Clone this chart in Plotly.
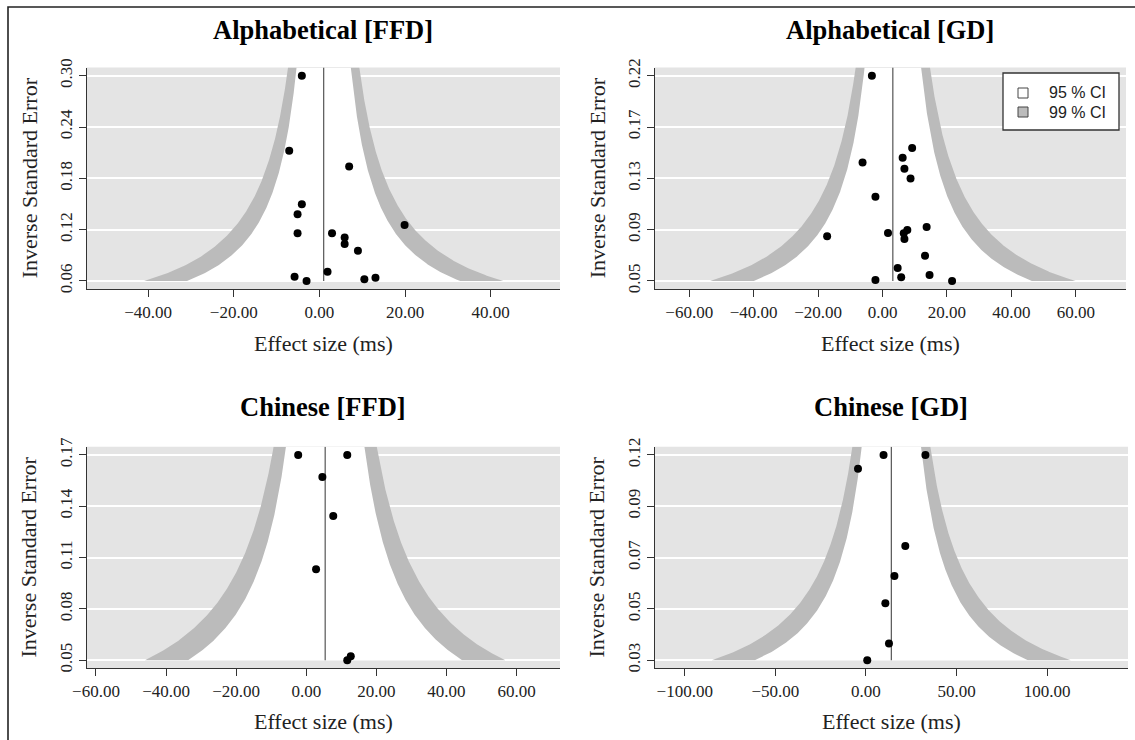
import numpy as np
import plotly.graph_objects as go

W, H = 1135, 740

# ---------------- data ----------------
panel_titles = ["Alphabetical [FFD]", "Alphabetical [GD]", "Chinese [FFD]", "Chinese [GD]"]

alpha_ffd_effect = [-4.1, -7.05, 6.95, -4.1, -5.1, 19.9, -5.1, 2.95, 5.9, 5.9, 9.0, 1.9, -5.8, -3.0, 10.5, 13.1]
alpha_ffd_inv_se = [0.2998, 0.2126, 0.1943, 0.1506, 0.1390, 0.1265, 0.1169, 0.1169, 0.1118, 0.1044,
                    0.0966, 0.0722, 0.0664, 0.0614, 0.0634, 0.0652]

alpha_gd_effect = [-3.3, 9.2, 6.25, -6.2, 6.8, 8.7, -2.2, 13.7, 7.7, 6.6, 1.7, -17.2, 6.8, 13.2, 4.7,
                   5.8, 14.6, -2.2, 21.6]
alpha_gd_inv_se = [0.2164, 0.1561, 0.1480, 0.1441, 0.1388, 0.1307, 0.1155, 0.0904, 0.0879, 0.0852,
                   0.0854, 0.0827, 0.0804, 0.0665, 0.0562, 0.0485, 0.0504, 0.0462, 0.0454]

chinese_ffd_effect = [-2.3, 11.7, 4.6, 7.7, 2.8, 12.7, 11.7]
chinese_ffd_inv_se = [0.1702, 0.1702, 0.1573, 0.1345, 0.1033, 0.0524, 0.0501]

chinese_gd_effect = [9.7, 32.8, -4.4, 21.7, 15.7, 10.7, 12.7, 0.7]
chinese_gd_inv_se = [0.1161, 0.1161, 0.1100, 0.0761, 0.0629, 0.0510, 0.0333, 0.0260]

pooled_effect = [1.0, 3.2, 5.4, 14.0]

effects = [alpha_ffd_effect, alpha_gd_effect, chinese_ffd_effect, chinese_gd_effect]
inv_ses = [alpha_ffd_inv_se, alpha_gd_inv_se, chinese_ffd_inv_se, chinese_gd_inv_se]

x_tick_values = [[-40, -20, 0, 20, 40],
                 [-60, -40, -20, 0, 20, 40, 60],
                 [-60, -40, -20, 0, 20, 40, 60],
                 [-100, -50, 0, 50, 100]]
x_tick_labels = [["\u221240.00", "\u221220.00", "0.00", "20.00", "40.00"],
                 ["\u221260.00", "\u221240.00", "\u221220.00", "0.00", "20.00", "40.00", "60.00"],
                 ["\u221260.00", "\u221240.00", "\u221220.00", "0.00", "20.00", "40.00", "60.00"],
                 ["\u2212100.00", "\u221250.00", "0.00", "50.00", "100.00"]]
y_tick_labels = [["0.06", "0.12", "0.18", "0.24", "0.30"],
                 ["0.05", "0.09", "0.13", "0.17", "0.22"],
                 ["0.05", "0.08", "0.11", "0.14", "0.17"],
                 ["0.03", "0.05", "0.07", "0.09", "0.12"]]

legend_labels = ["95 % CI", "99 % CI"]
z95, z99 = 1.959964, 2.575829

# ---------------- layout constants ----------------
x_ranges = [[-54.4, 56.2], [-70.8, 75.6], [-62.7, 72.4], [-116.7, 144.6]]
x_dom_px = [[86.5, 560], [654.5, 1126], [86.5, 560], [654.5, 1128]]
y_dom_px = [[67.5, 289.2], [67.5, 289.2], [446.7, 668.4], [446.7, 668.4]]
title_y_px = [30, 30, 407, 407]
xtitle_y_px = [343, 343, 721, 721]

BG = "#e4e4e4"
BAND = "#bbbbbb"
AX = "#333333"
SERIF = "Liberation Serif, Times New Roman, serif"
SANS = "Liberation Sans, Arial, sans-serif"


def px(x):
    return x / W


def py(y):
    return 1 - y / H


fig = go.Figure()
annotations = []
shapes = []
layout_axes = {}

for i in range(4):
    n = i + 1
    xa = "x" if n == 1 else f"x{n}"
    ya = "y" if n == 1 else f"y{n}"
    eff = np.array(effects[i])
    inv = np.array(inv_ses[i])
    ylo, yhi = inv.min(), inv.max()
    pad = 0.04 * (yhi - ylo)
    ytop = yhi + pad
    c = pooled_effect[i]

    ygrid = np.linspace(ylo, ytop, 400)
    for z, col in [(z99, BAND), (z95, "white")]:
        xs = np.concatenate([c - z / ygrid, (c + z / ygrid)[::-1]])
        ys = np.concatenate([ygrid, ygrid[::-1]])
        fig.add_trace(go.Scatter(x=xs, y=ys, mode="lines", fill="toself", fillcolor=col,
                                 line=dict(width=0, color=col), hoverinfo="skip",
                                 showlegend=False, xaxis=xa, yaxis=ya))
    # reference line
    fig.add_trace(go.Scatter(x=[c, c], y=[ylo, ytop], mode="lines",
                             line=dict(color="#555555", width=1.2), hoverinfo="skip",
                             showlegend=False, xaxis=xa, yaxis=ya))
    # studies
    fig.add_trace(go.Scatter(x=eff, y=inv, mode="markers",
                             marker=dict(color="black", size=8, line=dict(width=0)),
                             showlegend=False, xaxis=xa, yaxis=ya))

    xd = [px(x_dom_px[i][0]), px(x_dom_px[i][1])]
    yd = [py(y_dom_px[i][1]), py(y_dom_px[i][0])]
    layout_axes["xaxis" if n == 1 else f"xaxis{n}"] = dict(
        domain=xd, anchor=ya, range=x_ranges[i], tickmode="array", automargin=False,
        tickvals=x_tick_values[i], ticktext=x_tick_labels[i], showgrid=False, zeroline=False,
        showline=True, linecolor=AX, linewidth=1, ticks="outside", ticklen=7, tickwidth=1,
        tickcolor=AX, tickfont=dict(family=SERIF, size=17, color="#222222"), fixedrange=True)
    layout_axes["yaxis" if n == 1 else f"yaxis{n}"] = dict(
        domain=yd, anchor=xa, range=[ylo - pad, ytop], tickmode="array", automargin=False,
        tickvals=list(np.linspace(ylo, yhi, 5)), ticktext=y_tick_labels[i], showgrid=True,
        gridcolor="white", gridwidth=1.5, zeroline=False, showline=True, linecolor=AX,
        linewidth=1, ticks="outside", ticklen=7, tickwidth=1, tickcolor=AX, tickangle=-90,
        tickfont=dict(family=SERIF, size=17, color="#222222"), fixedrange=True)

    # plot background per panel
    shapes.append(dict(type="rect", xref="paper", yref="paper", x0=xd[0], x1=xd[1], y0=yd[0],
                       y1=yd[1], fillcolor=BG, line=dict(width=0), layer="below"))

    cx = (x_dom_px[i][0] + x_dom_px[i][1]) / 2
    annotations.append(dict(text=f"<b>{panel_titles[i]}</b>", x=px(cx), y=py(title_y_px[i]),
                            xref="paper", yref="paper", xanchor="center", yanchor="middle",
                            showarrow=False, font=dict(family=SERIF, size=26.5, color="black")))
    annotations.append(dict(text="Effect size (ms)", x=px(cx), y=py(xtitle_y_px[i]),
                            xref="paper", yref="paper", xanchor="center", yanchor="middle",
                            showarrow=False, font=dict(family=SERIF, size=22, color="#222222")))
    cy = (y_dom_px[i][0] + y_dom_px[i][1]) / 2
    annotations.append(dict(text="Inverse Standard Error", x=px(x_dom_px[i][0] - 57.5), y=py(cy),
                            xref="paper", yref="paper", xanchor="center", yanchor="middle",
                            textangle=-90, showarrow=False,
                            font=dict(family=SERIF, size=22, color="#222222")))

# legend (panel 2)
shapes.append(dict(type="rect", xref="paper", yref="paper", x0=px(1003), x1=px(1119),
                   y0=py(130), y1=py(73), fillcolor="white", line=dict(color="#333333", width=1.3)))
for k, (lab, col, yc) in enumerate(zip(legend_labels, ["white", BAND], [93, 112])):
    shapes.append(dict(type="rect", xref="paper", yref="paper", x0=px(1018), x1=px(1028),
                       y0=py(yc + 5), y1=py(yc - 5), fillcolor=col,
                       line=dict(color="#444444", width=1)))
    annotations.append(dict(text=lab, x=px(1047), y=py(yc), xref="paper", yref="paper",
                            xanchor="left", yanchor="middle", showarrow=False,
                            font=dict(family=SANS, size=16, color="#222222")))

# outer frame
shapes.append(dict(type="rect", xref="paper", yref="paper", x0=px(8), x1=1.02, y0=-0.02,
                   y1=py(7), fillcolor="rgba(0,0,0,0)", line=dict(color="#222222", width=1.6)))

fig.update_layout(width=W, height=H, margin=dict(l=0, r=0, t=0, b=0, autoexpand=False),
                  paper_bgcolor="white", plot_bgcolor="rgba(0,0,0,0)", showlegend=False,
                  shapes=shapes, annotations=annotations, **layout_axes)

fig.write_html("out.html", config={"displayModeBar": False})
